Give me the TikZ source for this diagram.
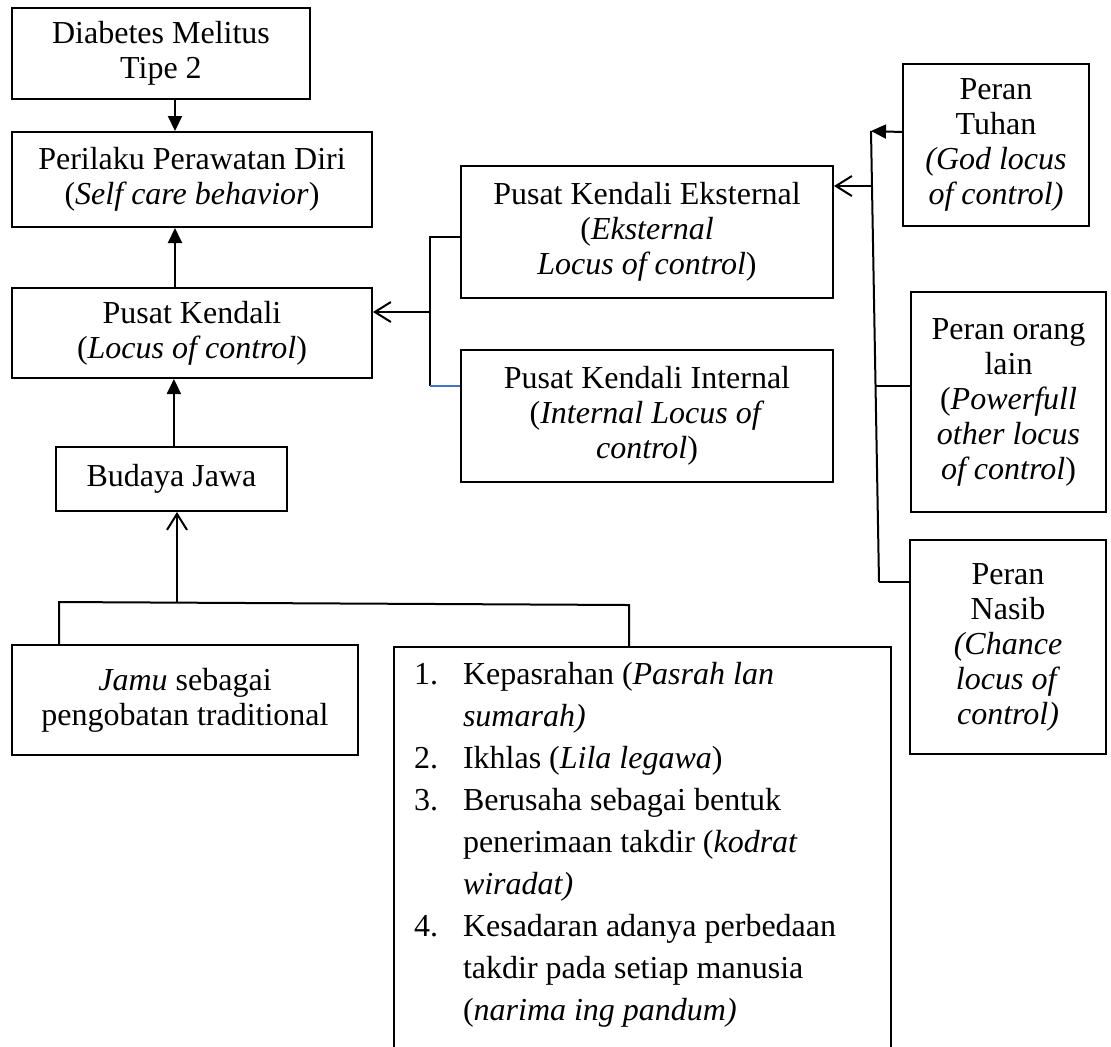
\documentclass[tikz,border=0pt]{standalone}
\usepackage{fontspec}
\setmainfont{Liberation Serif}
\usetikzlibrary{arrows.meta}
\definecolor{garisbiru}{RGB}{68,114,196}
\tikzset{kotak/.style={draw, line width=1pt, align=center, inner sep=0pt},
    -tri-/.style={-{Triangle[length=7.5pt,width=7pt]}},
    -vee-/.style={-{Straight Barb[length=8pt,width=10pt]}}
}

\begin{document}
\begin{tikzpicture}[x=0.5pt, y=-0.5pt, line width=1pt,
        every node/.style={font=\fontsize{16}{17.5}\selectfont}]
            \useasboundingbox (0,0) rectangle (1111,1046);

            % Left column
            \node[kotak, minimum width=149pt, minimum height=45.5pt] (dm) at (161,53.5) {Diabetes Melitus\\Tipe 2};
            \node[kotak, minimum width=180pt, minimum height=47.5pt] (rawat) at (192,179.5) {Perilaku Perawatan Diri\\(\textit{Self care behavior})};
            \node[kotak, minimum width=180pt, minimum height=45pt] (pusat) at (192,333) {Pusat Kendali\\(\textit{Locus of control})};
            \node[kotak, minimum width=115.5pt, minimum height=32pt] (jawa) at (171.5,479) {Budaya Jawa};
            \node[kotak, minimum width=173pt, minimum height=55pt] (jamu) at (185,700) {\textit{Jamu} sebagai\\pengobatan traditional};
            \node[kotak, anchor=north west, inner xsep=10pt, inner ysep=4pt, align=left,
                font=\fontsize{16}{21}\selectfont] (nilai) at (393,646) {\parbox[t][210pt][t]{228.5pt}{%
                \begin{tabular}{@{}p{24.5pt}@{}l@{}}
                1. & Kepasrahan (\textit{Pasrah lan}\\
                   & \textit{sumarah)}\\
                2. & Ikhlas (\textit{Lila legawa})\\
                3. & Berusaha sebagai bentuk\\
                   & penerimaan takdir (\textit{kodrat}\\
                   & \textit{wiradat)}\\
                4. & Kesadaran adanya perbedaan\\
                   & takdir pada setiap manusia\\
                   & (\textit{narima ing pandum)}
                \end{tabular}}};

            % Middle column
            \node[kotak, minimum width=186pt, minimum height=66pt] (eks) at (647,232) {Pusat Kendali Eksternal\\(\textit{Eksternal}\\\textit{Locus of control})};
            \node[kotak, minimum width=186pt, minimum height=66pt] (int) at (647,416) {Pusat Kendali Internal\\(\textit{Internal Locus of}\\\textit{control})};

            % Right column
            \node[kotak, minimum width=93pt, minimum height=81pt] (tuhan) at (996,145) {Peran\\Tuhan\\\textit{(God locus}\\\textit{of control)}};
            \node[kotak, minimum width=97.5pt, minimum height=110pt] (orang) at (1008.5,402) {Peran orang\\lain\\(\textit{Powerfull}\\\textit{other locus}\\\textit{of control})};
            \node[kotak, minimum width=98pt, minimum height=107pt] (nasib) at (1008,647) {Peran\\Nasib\\\textit{(Chance}\\\textit{locus of}\\\textit{control)}};

            % Junctions
            \coordinate (kt) at (430,237);
            \coordinate (km) at (430,312);
            \coordinate (kb) at (430,386);
            \coordinate (rt) at (871,131);
            \coordinate (re) at (871,186);
            \coordinate (ro) at (876,386);
            \coordinate (rb) at (879,582);
            \coordinate (bl) at (59,602);
            \coordinate (bm) at (177,602);
            \coordinate (br) at (629,605);

            % Main chain
            \draw[-tri-] ([xshift=7pt]dm.south) -- ([xshift=7pt]dm.south |- rawat.north);
            \draw[-tri-] ([xshift=-8.5pt]pusat.north) -- ([xshift=-8.5pt]pusat.north |- rawat.south);
            \draw[-tri-] ([xshift=1.2pt]jawa.north) -- ([xshift=1.2pt]jawa.north |- pusat.south);

            % Budaya Jawa branch
            \draw (jamu.north -| bl) -- (bl) -- (br) -- (nilai.north -| br);
            \draw[-vee-] (bm) -- (bm |- jawa.south);

            % Internal / external bracket
            \draw (eks.west |- kt) -- (kt) -- (kb);
            \draw[garisbiru, line width=0.8pt] (kb) -- (int.west |- kb);
            \draw[-vee-] (km) -- (pusat.east |- km);

            % External sources
            \draw (rt) -- (rb);
            \draw[-tri-] ([yshift=6.5pt]tuhan.west) -- (rt);
            \draw[-vee-] (re) -- (eks.east |- re);
            \draw (orang.west |- ro) -- (ro);
            \draw (nasib.west |- rb) -- (rb);
        \end{tikzpicture}
\end{document}
